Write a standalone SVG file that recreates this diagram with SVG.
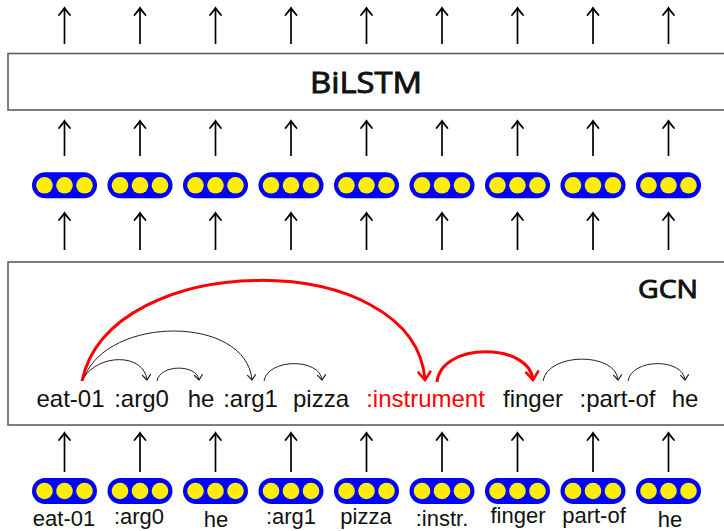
<svg xmlns="http://www.w3.org/2000/svg" width="724" height="531" viewBox="0 0 724 531">
<style>
.box{fill:#fff;stroke:#555;stroke-width:1.5}
.pill{fill:#0000ff}
.dot{fill:#ffee00}
.up{stroke:#000;stroke-width:1.7;fill:none;marker-end:url(#to)}
.arc{stroke:#222;stroke-width:1;fill:none;marker-end:url(#toS)}
.red{stroke:#ff0000;stroke-width:3;fill:none;marker-end:url(#toR)}
.w{font-family:"Liberation Sans",Arial,sans-serif;font-size:24px;text-anchor:middle;fill:#111}
.lab{font-family:"Liberation Sans",Arial,sans-serif;font-size:22px;text-anchor:middle;fill:#111}
.title{font-family:"Open Sans","DejaVu Sans",sans-serif;font-weight:normal;fill:#111;stroke:#111;stroke-width:0.9}
</style>
<defs>
<marker id="to" markerUnits="userSpaceOnUse" viewBox="-10 -7 12 14" refX="0" refY="0" markerWidth="12" markerHeight="14" orient="auto">
<path d="M-7,-5.5 Q-2.5,-1.6 0,0 Q-2.5,1.6 -7,5.5" fill="none" stroke="#000" stroke-width="1.8" stroke-linecap="round"/>
</marker>
<marker id="toS" markerUnits="userSpaceOnUse" viewBox="-10 -6 12 12" refX="0" refY="0" markerWidth="12" markerHeight="12" orient="auto">
<path d="M-5,-4 Q-1.5,-1.2 0,0 Q-1.5,1.2 -5,4" fill="none" stroke="#222" stroke-width="1.2" stroke-linecap="round"/>
</marker>
<marker id="toR" markerUnits="userSpaceOnUse" viewBox="-12 -8 14 16" refX="0" refY="0" markerWidth="14" markerHeight="16" orient="auto">
<path d="M-8,-6 Q-2.5,-2 0,0 Q-2.5,2 -8,6" fill="none" stroke="#ff0000" stroke-width="2.6" stroke-linecap="round"/>
</marker>
<g id="p">
<rect x="-32.5" y="-13" width="65" height="26" rx="13" class="pill"/>
<circle cx="-20" cy="0" r="8.3" class="dot"/>
<circle cx="0" cy="0" r="8.3" class="dot"/>
<circle cx="20" cy="0" r="8.3" class="dot"/>
</g>
</defs>

<g id="bilstm">
<rect x="8" y="53.5" width="730" height="56.5" class="box"/>
<text x="366" y="92.5" class="title" font-size="29" text-anchor="middle" textLength="112" lengthAdjust="spacingAndGlyphs">BiLSTM</text>
</g>

<g id="gcn">
<rect x="8" y="262" width="730" height="163" class="box"/>
<text x="668" y="298" class="title" font-size="25" text-anchor="middle" textLength="60" lengthAdjust="spacingAndGlyphs">GCN</text>
<text x="70.5" y="407" class="w">eat-01</text>
<text x="141.5" y="407" class="w">:arg0</text>
<text x="201" y="407" class="w">he</text>
<text x="250.5" y="407" class="w">:arg1</text>
<text x="321" y="407" class="w">pizza</text>
<text x="425.5" y="407" class="w" style="fill:#ff0000">:instrument</text>
<text x="533" y="407" class="w">finger</text>
<text x="617.5" y="407" class="w">:part-of</text>
<text x="685" y="407" class="w">he</text>
</g>

<g id="emb-top">
<use href="#p" x="64.5" y="185.3"/>
<use href="#p" x="140" y="185.3"/>
<use href="#p" x="215.5" y="185.3"/>
<use href="#p" x="291" y="185.3"/>
<use href="#p" x="366.5" y="185.3"/>
<use href="#p" x="442" y="185.3"/>
<use href="#p" x="517.5" y="185.3"/>
<use href="#p" x="593" y="185.3"/>
<use href="#p" x="668.5" y="185.3"/>
</g>

<g id="emb-bottom">
<use href="#p" x="64.5" y="491"/>
<use href="#p" x="140" y="491"/>
<use href="#p" x="215.5" y="491"/>
<use href="#p" x="291" y="491"/>
<use href="#p" x="366.5" y="491"/>
<use href="#p" x="442" y="491"/>
<use href="#p" x="517.5" y="491"/>
<use href="#p" x="593" y="491"/>
<use href="#p" x="668.5" y="491"/>
<text x="64" y="526" class="lab">eat-01</text>
<text x="139" y="524" class="lab">:arg0</text>
<text x="216" y="527" class="lab">he</text>
<text x="291" y="524" class="lab">:arg1</text>
<text x="366" y="524" class="lab">pizza</text>
<text x="442" y="526" class="lab">:instr.</text>
<text x="518" y="523" class="lab">finger</text>
<text x="594" y="523" class="lab">part-of</text>
<text x="670" y="527" class="lab">he</text>
</g>

<g id="connectors">
<path class="up" d="M64.5,44V8"/>
<path class="up" d="M140,44V8"/>
<path class="up" d="M215.5,44V8"/>
<path class="up" d="M291,44V8"/>
<path class="up" d="M366.5,44V8"/>
<path class="up" d="M442,44V8"/>
<path class="up" d="M517.5,44V8"/>
<path class="up" d="M593,44V8"/>
<path class="up" d="M668.5,44V8"/>

<path class="up" d="M64.5,156V121"/>
<path class="up" d="M140,156V121"/>
<path class="up" d="M215.5,156V121"/>
<path class="up" d="M291,156V121"/>
<path class="up" d="M366.5,156V121"/>
<path class="up" d="M442,156V121"/>
<path class="up" d="M517.5,156V121"/>
<path class="up" d="M593,156V121"/>
<path class="up" d="M668.5,156V121"/>

<path class="up" d="M64.5,250V213"/>
<path class="up" d="M140,250V213"/>
<path class="up" d="M215.5,250V213"/>
<path class="up" d="M291,250V213"/>
<path class="up" d="M366.5,250V213"/>
<path class="up" d="M442,250V213"/>
<path class="up" d="M517.5,250V213"/>
<path class="up" d="M593,250V213"/>
<path class="up" d="M668.5,250V213"/>

<path class="up" d="M64.5,472V433"/>
<path class="up" d="M140,472V433"/>
<path class="up" d="M215.5,472V433"/>
<path class="up" d="M291,472V433"/>
<path class="up" d="M366.5,472V433"/>
<path class="up" d="M442,472V433"/>
<path class="up" d="M517.5,472V433"/>
<path class="up" d="M593,472V433"/>
<path class="up" d="M668.5,472V433"/>

<path class="arc" d="M83,379 C98,353 144,353 147,380"/>
<path class="arc" d="M84,378 C108,315 246,315 252,380"/>
<path class="arc" d="M157,381 C160,364 197,364 199,380"/>
<path class="arc" d="M264,381 C268,358 320,358 322,380"/>
<path class="arc" d="M543,381 C548,352 616,352 618,380"/>
<path class="arc" d="M628,381 C632,358 683,358 685,380"/>
<path class="red" d="M82,381 C110,247 415,247 425,380"/>
<path class="red" d="M437,382 C441,342 529,342 533,380"/>
</g>
</svg>
